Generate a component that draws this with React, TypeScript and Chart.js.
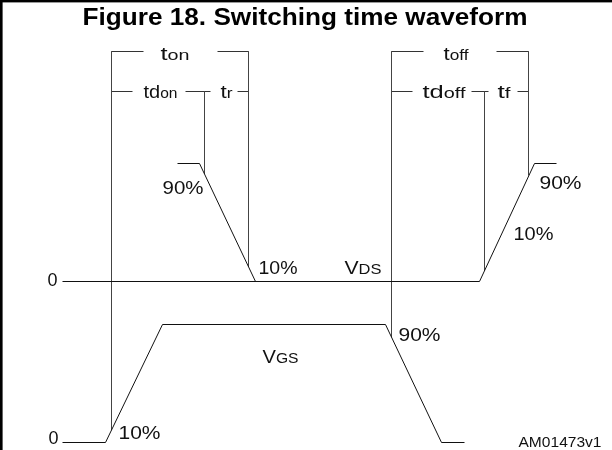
import React, { useEffect, useRef } from "react";
import { Chart, registerables } from "chart.js";
Chart.register(...registerables);

const TITLE = "Figure 18. Switching time waveform";

// Waveforms: time (horizontal units) and level (vertical units, downward)
const vdsOnTime = [177, 199, 255];
const vdsOnLevel = [163, 163, 281];
const vdsOffTime = [62, 479, 534, 556];
const vdsOffLevel = [281, 281, 163, 163];
const vgsTime = [62, 105, 162, 385, 441, 464];
const vgsLevel = [442, 442, 324, 324, 442, 442];

// Timing marker verticals
const markerTime = [111, 204, 248, 391, 484, 528];
const markerTop = [51, 91, 51, 51, 91, 51];
const markerBottom = [429.6, 173.5, 266.3, 336.6, 270.3, 174.7];

// Bracket segments (horizontal dimension lines)
const bracketStart = [111, 217, 111, 185, 237, 391, 496, 391, 471, 517];
const bracketEnd = [143, 248, 132, 210, 248, 423, 528, 412, 488, 528];
const bracketLevel = [51, 51, 91, 91, 91, 51, 51, 91, 91, 91];

// Labels: [main, sub] text parts
const labelMain = ["t", "td", "t", "t", "td", "t", "90%", "10%", "0", "V", "90%", "10%", "V", "90%", "10%", "0", "AM01473v1"];
const labelSub = ["on", "on", "r", "off", "off", "f", "", "", "", "DS", "", "", "GS", "", "", "", ""];
const labelTime = [160, 143, 220, 443, 422, 497, 162, 258, 47, 344, 539, 513, 262, 398, 118, 48, 518];
const labelLevel = [59, 97, 97, 59, 97, 97, 193, 273, 285, 273, 188, 239, 362, 340, 438, 443, 446];
const labelWidth = [29, 34, 12, 25, 43, 13, 41, 39, 10, 37, 42, 40, 36, 42, 42, 10, 83];

const FONT = "'Liberation Sans', Arial, sans-serif";

function toPoints(xs: number[], ys: number[]) {
  return xs.map((x, i) => ({ x, y: ys[i] }));
}

const textPlugin = {
  id: "diagramText",
  afterDatasetsDraw(chart: any) {
    const ctx = chart.ctx as CanvasRenderingContext2D;
    const xs = chart.scales.x;
    const ys = chart.scales.y;
    ctx.save();
    // frame
    ctx.fillStyle = "#000";
    ctx.fillRect(0, 0, chart.width, 2.4);
    ctx.fillRect(0, 0, 2.6, chart.height);
    // title
    ctx.font = `bold 23px ${FONT}`;
    const tw = ctx.measureText(TITLE).width;
    const tsx = 445 / tw;
    ctx.save();
    ctx.translate(305 - 445 / 2, 25);
    ctx.scale(tsx, 1);
    ctx.textBaseline = "alphabetic";
    ctx.fillText(TITLE, 0, 0);
    ctx.restore();
    // labels
    ctx.fillStyle = "#111";
    for (let i = 0; i < labelMain.length; i++) {
      const isAm = labelMain[i].startsWith("AM");
      const mainSize = isAm ? 15 : 18;
      const subSize = 14;
      ctx.font = `${mainSize}px ${FONT}`;
      const w1 = ctx.measureText(labelMain[i]).width;
      ctx.font = `${subSize}px ${FONT}`;
      const w2 = labelSub[i] ? ctx.measureText(labelSub[i]).width : 0;
      const sx = labelWidth[i] / (w1 + w2);
      const px = xs.getPixelForValue(labelTime[i]);
      const py = ys.getPixelForValue(labelLevel[i]);
      ctx.save();
      ctx.translate(px, py);
      ctx.scale(sx, 1);
      ctx.font = `${mainSize}px ${FONT}`;
      ctx.fillText(labelMain[i], 0, 0);
      if (labelSub[i]) {
        ctx.font = `${subSize}px ${FONT}`;
        ctx.fillText(labelSub[i], w1, 0);
      }
      ctx.restore();
    }
    ctx.restore();
  },
};

export default function App() {
  const ref = useRef<HTMLCanvasElement | null>(null);
  useEffect(() => {
    document.body.style.margin = "0";
    document.body.style.background = "#fff";
    if (!ref.current) return;
    const line = (data: any[], color: string, width = 1) => ({
      data,
      showLine: true,
      borderColor: color,
      backgroundColor: color,
      borderWidth: width,
      pointRadius: 0,
      fill: false,
      tension: 0,
    });
    const datasets: any[] = [
      line(toPoints(vdsOnTime, vdsOnLevel), "#111"),
      line(toPoints(vdsOffTime, vdsOffLevel), "#111"),
      line(toPoints(vgsTime, vgsLevel), "#111"),
    ];
    markerTime.forEach((t, i) => {
      datasets.push(line([{ x: t, y: markerTop[i] }, { x: t, y: markerBottom[i] }], "#444"));
    });
    bracketStart.forEach((s, i) => {
      datasets.push(line([{ x: s, y: bracketLevel[i] }, { x: bracketEnd[i], y: bracketLevel[i] }], "#333"));
    });
    const chart = new Chart(ref.current, {
      type: "scatter",
      data: { datasets },
      options: {
        animation: false,
        responsive: false,
        events: [],
        layout: { padding: 0 },
        plugins: { legend: { display: false }, tooltip: { enabled: false }, title: { display: false } },
        scales: {
          x: { type: "linear", min: -0.5, max: 611.5, display: false },
          y: { type: "linear", min: -0.5, max: 449.5, reverse: true, display: false },
        },
      },
      plugins: [textPlugin],
    });
    return () => chart.destroy();
  }, []);
  return (
    <div style={{ width: 612, height: 450, background: "#fff" }}>
      <canvas ref={ref} width={612} height={450} style={{ display: "block" }} />
    </div>
  );
}
